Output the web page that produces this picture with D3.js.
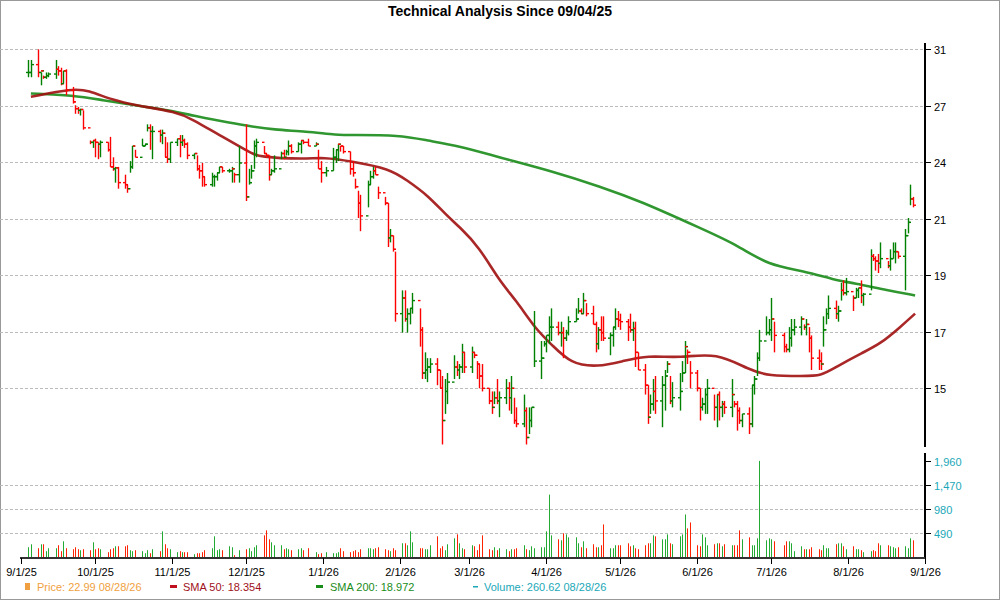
<!DOCTYPE html>
<html><head><meta charset="utf-8">
<script src="https://cdn.jsdelivr.net/npm/d3@7"></script>
<style>body{margin:0;background:#fff}svg{display:block;font-family:"Liberation Sans",Arial,sans-serif}</style>
</head><body><svg id="c" width="1000" height="600"></svg>
<script>
const startDate = "2025-09-04";
const holidays = ["2025-11-27","2025-12-25","2026-01-01","2026-07-03"];
const closes = [29.5,30.0,29.5,29.6,29.2,29.3,29.4,29.7,29.6,28.8,29.6,28.4,27.7,27.3,27.2,27.25,26.2,25.4,25.5,25.4,25.3,25.4,25.0,24.1,24.0,24.05,23.3,23.2,23.0,24.1,25.2,24.6,25.2,25.3,26.2,26.0,26.0,25.8,25.9,24.6,24.5,25.4,25.6,25.4,25.5,25.3,24.7,24.8,24.0,23.9,23.6,23.2,23.6,23.6,23.8,24.1,23.9,23.9,24.0,23.7,
24.3,22.6,23.3,23.9,25.2,25.4,24.8,24.7,23.7,23.9,24.0,24.8,24.6,24.9,25.2,24.9,25.3,25.5,25.4,25.2,25.3,24.0,23.8,23.9,24.6,25.0,25.3,25.2,24.9,24.0,23.8,23.1,22.3,21.7,23.2,23.6,23.9,23.7,22.8,22.3,20.7,20.8,20.2,17.6,18.2,17.4,17.6,17.8,18.1,17.0,15.5,15.6,15.7,15.8,15.6,15.0,14.0,14.9,15.2,
15.7,15.6,15.7,16.2,15.7,16.2,16.1,15.8,15.4,15.0,14.6,14.4,14.7,14.6,14.7,15.0,14.7,15.0,14.0,13.9,14.3,13.5,14.0,14.4,15.9,16.0,16.5,16.8,17.1,17.1,16.9,16.9,16.7,16.9,17.3,17.4,17.7,17.6,18.1,17.6,17.2,16.5,17.0,16.9,16.7,16.8,17.1,17.4,17.35,17.3,17.1,17.0,17.05,16.2,15.6,15.1,14.1,14.5,14.9,14.6,15.1,15.4,15.8,
14.6,14.7,14.9,15.5,16.4,16.2,15.5,15.0,14.4,14.5,14.8,15.0,14.4,14.8,14.4,14.5,14.4,14.8,14.5,14.3,14.0,14.2,13.9,15.1,15.3,16.0,16.6,16.9,17.0,17.4,16.8,16.4,16.3,16.7,17.0,17.1,17.4,17.1,17.2,16.7,16.0,15.9,15.8,17.0,17.6,17.8,17.6,17.7,18.5,18.4,18.45,18.2,18.5,18.6,18.3,18.35,19.9,19.8,19.7,19.6,19.8,19.5,19.8,20.1,20.1,19.9,20.8,21.4,22.5,22.2];
const highs = [30.3,30.3,31.0,29.5,29.3,29.5,29.5,30.3,29.9,29.8,29.6,29.7,28.6,27.5,27.4,27.3,27.2,25.5,25.5,25.6,25.4,25.5,25.4,25.7,24.6,24.1,24.1,23.7,23.2,24.4,25.2,25.0,25.6,25.3,26.4,26.4,26.3,26.1,26.1,25.7,25.4,25.4,25.6,25.8,25.8,25.6,25.4,24.8,24.7,24.2,24.3,23.6,23.8,23.7,23.8,24.1,24.1,24.0,24.1,23.8,
25.2,26.4,24.0,24.2,25.5,25.6,25.2,24.8,24.7,24.0,24.7,24.9,25.0,25.0,25.5,25.3,25.4,25.5,25.5,25.6,25.4,25.0,24.4,24.1,25.1,25.0,25.3,25.2,25.2,24.9,24.4,23.5,22.9,22.7,23.4,23.9,24.1,24.1,23.1,22.6,22.3,21.1,20.8,20.1,18.5,18.5,17.8,17.8,18.4,17.8,17.1,16.2,16.0,16.0,16.0,15.6,15.4,15.3,15.5,
16.1,15.9,15.8,16.5,16.2,16.4,16.2,15.9,15.8,15.8,15.0,14.9,14.9,15.3,14.9,15.3,15.2,15.4,14.7,14.4,14.8,14.4,14.4,14.4,17.7,16.6,16.6,16.8,17.5,17.8,17.3,17.3,17.1,17.0,17.5,17.8,18.2,17.8,18.4,18.0,17.9,17.3,17.1,17.5,17.5,16.9,17.1,17.8,17.7,17.6,17.4,17.6,17.3,17.3,16.2,15.8,15.1,14.8,15.3,15.4,15.4,15.6,15.9,
15.4,15.2,15.5,15.9,16.6,16.3,15.9,15.6,15.0,14.7,15.0,15.3,14.8,14.8,14.9,14.6,14.6,15.3,14.6,14.6,14.4,14.2,14.4,15.1,15.4,16.2,17.0,17.5,17.4,18.2,17.3,16.9,16.5,17.1,17.4,17.4,17.5,17.2,17.4,17.1,16.8,16.3,16.2,17.5,17.8,18.3,18.1,17.9,18.8,18.9,19.0,18.3,18.6,18.6,18.9,18.4,20.2,20.0,19.9,20.0,20.5,19.7,20.2,20.5,20.5,20.1,21.1,21.6,23.2,22.6];
const lows = [29.2,29.2,29.2,28.7,29.1,29.1,29.2,29.1,29.3,28.7,28.8,28.1,27.6,27.0,27.0,26.9,26.1,25.3,25.1,24.6,24.5,24.6,24.9,24.1,23.9,23.3,23.0,23.0,22.8,23.8,24.0,24.6,25.2,25.2,26.0,25.0,24.5,25.4,25.3,24.6,24.3,24.3,25.2,24.6,25.2,25.1,24.5,24.5,23.9,23.5,23.1,23.1,23.1,23.1,23.4,23.8,23.8,23.8,23.3,23.3,
23.3,22.4,23.2,23.5,24.0,24.6,24.8,24.6,23.4,23.7,23.8,24.5,24.5,24.7,24.7,24.8,24.9,24.8,25.3,25.2,25.2,24.0,23.3,23.6,23.9,24.3,24.4,24.9,24.8,23.7,23.6,23.0,21.6,21.0,22.1,23.2,23.5,23.7,22.5,22.2,20.3,20.5,20.1,17.3,16.9,17.3,16.9,17.2,17.6,16.4,15.3,15.3,15.2,15.5,15.1,15.0,13.3,14.2,14.5,
15.3,15.4,15.3,15.5,15.5,15.5,16.0,15.3,15.0,14.9,14.5,14.2,14.5,14.5,14.1,14.5,14.3,14.2,13.9,13.8,13.8,13.3,13.6,13.8,15.7,15.3,16.4,16.2,16.5,16.6,16.8,16.4,16.0,16.6,16.8,17.3,17.6,17.6,17.6,17.5,17.2,16.2,16.3,16.6,16.6,16.1,16.4,17.0,17.1,17.0,16.6,16.9,16.6,15.7,15.6,14.8,13.9,14.2,14.3,14.2,13.8,14.3,15.5,
14.5,14.4,14.3,15.2,15.5,15.8,15.0,14.9,14.0,14.3,14.2,14.2,14.0,13.8,14.0,14.1,14.2,14.1,14.4,13.7,13.9,13.8,13.6,13.8,14.8,15.4,15.9,16.8,16.8,16.6,16.2,16.2,16.2,16.2,16.4,16.8,16.8,17.0,16.8,16.2,15.6,15.6,15.6,16.4,17.2,17.4,17.4,17.3,18.1,18.3,18.3,17.7,18.2,18.2,18.0,17.9,18.5,19.7,19.3,19.2,19.4,19.4,19.3,19.8,19.6,19.8,18.5,20.9,22.2,22.1];
const volumes = [208,269,188,269,269,128,188,188,249,128,329,188,168,208,168,148,168,148,309,168,188,168,108,168,188,228,228,228,249,148,128,148,128,87,148,87,168,128,531,269,188,168,108,128,108,108,108,67,87,87,108,148,188,430,148,168,148,228,208,47,148,168,188,128,208,249,450,551,370,309,249,249,168,188,168,148,168,188,148,188,108,67,87,108,87,87,108,188,128,108,128,148,108,168,188,188,168,188,208,168,148,128,188,148,289,289,249,531,309,188,188,168,168,249,430,188,228,148,269,390,470,289,188,168,249,228,148,269,450,
168,148,208,148,188,168,128,168,168,188,249,168,148,228,188,208,208,531,1277,450,370,349,491,470,410,410,289,208,329,188,269,208,208,249,672,188,188,249,249,249,289,228,249,188,168,249,289,289,450,430,370,370,470,289,269,430,470,874,591,712,249,228,470,410,249,269,289,289,228,269,249,249,249,551,370,410,249,249,390,1962,349,390,370,329,249,329,329,289,128,228,168,168,168,208,168,148,249,188,188,269,289,289,228,168,228,168,168,148,108,128,148,128,289,249,249,228,208,188,208,228,188,390,349,571,531,260];
const sma50Dates = ["2025-09-05","2025-09-22","2025-09-28","2025-10-08","2025-10-17","2025-11-03","2025-11-09","2025-11-20","2025-12-02","2025-12-06","2025-12-25","2026-01-01","2026-01-12","2026-01-28","2026-02-04","2026-02-12","2026-02-20","2026-02-25","2026-03-05","2026-03-13","2026-03-20","2026-03-28","2026-04-03","2026-04-11","2026-04-22","2026-05-02","2026-05-12","2026-05-25","2026-06-09","2026-06-22","2026-06-30","2026-07-14","2026-07-21","2026-07-27","2026-08-07","2026-08-14","2026-08-22","2026-08-28"];
const sma50Values = [28.0,28.5,28.4,27.8,27.5,27.1,26.7,25.8,24.9,24.6,24.5,24.6,24.4,24.0,23.4,22.7,21.7,21.2,20.3,18.9,18.1,17.0,16.5,15.8,15.7,15.9,16.1,16.0,16.2,15.6,15.4,15.4,15.4,15.7,16.2,16.5,17.1,17.6];
const sma200Dates = ["2025-09-05","2025-09-22","2025-10-04","2025-10-17","2025-11-04","2025-11-09","2025-11-20","2025-12-02","2025-12-12","2025-12-25","2026-01-07","2026-01-12","2026-02-01","2026-02-12","2026-02-25","2026-03-13","2026-04-03","2026-04-23","2026-05-09","2026-06-03","2026-06-17","2026-06-30","2026-07-14","2026-07-27","2026-08-03","2026-08-17","2026-08-28"];
const sma200Values = [28.2,28.1,27.8,27.5,27.1,26.9,26.6,26.3,26.1,26.0,25.8,25.8,25.8,25.5,25.2,24.6,23.9,23.1,22.4,21.1,20.4,19.5,19.3,18.9,18.8,18.5,18.3];
const priceTickLabels = ["15","17","19","21","24","27","31"];
const volTickLabels = ["490","980","1,470","1,960"];
const volTickValues = [490,980,1470,1960];
const monthTicks = ["2025-09-01","2025-10-01","2025-11-01","2025-12-01","2026-01-01","2026-02-01","2026-03-01","2026-04-01","2026-05-01","2026-06-01","2026-07-01","2026-08-01","2026-09-01"];

const parse = d3.timeParse("%Y-%m-%d"), fmt = d3.timeFormat("%Y-%m-%d");
const dates = [];
for (let d = parse(startDate); dates.length < closes.length; d = d3.timeDay.offset(d, 1)) {
  const wd = d.getDay();
  if (wd === 0 || wd === 6 || holidays.includes(fmt(d))) continue;
  dates.push(new Date(d));
}
const bars = closes.map((c, i) => ({d: dates[i], c, h: highs[i], l: lows[i], o: i ? closes[i-1] : c, v: volumes[i]}));
bars.forEach(b => b.up = b.c >= b.o);

const svg = d3.select("#c");
const RIGHT = 925;
const x = d3.scaleTime().domain([parse("2025-09-01"), parse("2026-09-01")]).range([21, RIGHT]);
const y = d3.scaleLog().domain([15, 31]).range([388.3, 49.3]);
const yv = d3.scaleLinear().domain([0, 1960]).range([557.5, 461]);
const r = Math.pow(31/15, 1/6);

svg.append("rect").attr("x",0.5).attr("y",0.5).attr("width",999).attr("height",599).attr("fill","none").attr("stroke","#999");
svg.append("text").attr("x",500).attr("y",16).attr("text-anchor","middle").attr("font-size",14).attr("font-weight","bold").text("Technical Analysis Since 09/04/25");

const g = svg.append("g");
priceTickLabels.forEach((lab, k) => {
  const yy = Math.round(y(15*Math.pow(r,k))) + 0.5;
  g.append("line").attr("x1",0).attr("x2",RIGHT).attr("y1",yy).attr("y2",yy).attr("stroke","#bbb").attr("stroke-dasharray","3,2");
  g.append("line").attr("x1",RIGHT).attr("x2",RIGHT+6).attr("y1",yy).attr("y2",yy).attr("stroke","#000");
  g.append("text").attr("x",RIGHT+9).attr("y",yy+4).attr("font-size",11).text(lab);
});
volTickValues.forEach((v, k) => {
  const yy = Math.round(yv(v)) + 0.5;
  if (k < 3) g.append("line").attr("x1",0).attr("x2",RIGHT).attr("y1",yy).attr("y2",yy).attr("stroke","#bbb").attr("stroke-dasharray","3,2");
  g.append("line").attr("x1",RIGHT).attr("x2",RIGHT+6).attr("y1",yy).attr("y2",yy).attr("stroke","#000");
  g.append("text").attr("x",RIGHT+9).attr("y",yy+4).attr("font-size",11).attr("fill","#1aa8b8").text(volTickLabels[k]);
});
svg.append("line").attr("x1",RIGHT).attr("x2",RIGHT).attr("y1",43).attr("y2",447).attr("stroke","#000").attr("stroke-width",2);
svg.append("line").attr("x1",RIGHT).attr("x2",RIGHT).attr("y1",453).attr("y2",559).attr("stroke","#000").attr("stroke-width",2);

svg.append("g").selectAll("line").data(bars.filter(b => b.v != null)).join("line")
  .attr("x1", d => Math.round(x(d.d))+0.5).attr("x2", d => Math.round(x(d.d))+0.5)
  .attr("y1", yv(0)).attr("y2", d => yv(d.v))
  .attr("stroke", d => d.up ? "#22aa33" : "#ff2200").attr("stroke-width",1);

svg.append("line").attr("x1",20).attr("x2",RIGHT).attr("y1",558).attr("y2",558).attr("stroke","#333").attr("stroke-width",2);
monthTicks.forEach(m => {
  const d = parse(m), xx = Math.round(x(d))+0.5;
  svg.append("line").attr("x1",xx).attr("x2",xx).attr("y1",558).attr("y2",564).attr("stroke","#000");
  svg.append("text").attr("x",xx).attr("y",576).attr("text-anchor","middle").attr("font-size",11)
    .text(d3.timeFormat("%-m/%-d/%y")(d));
});

const line = d3.line().x(d => x(d[0])).y(d => y(d[1])).curve(d3.curveBasis);
const s200 = sma200Dates.map((d,i) => [parse(d), sma200Values[i]]);
const s50 = sma50Dates.map((d,i) => [parse(d), sma50Values[i]]);
svg.append("path").attr("d", line(s200)).attr("fill","none").attr("stroke","#1a8c1a").attr("stroke-width",2.6).attr("stroke-opacity",0.9);
svg.append("path").attr("d", line(s50)).attr("fill","none").attr("stroke","#a01010").attr("stroke-width",2.6).attr("stroke-opacity",0.9);

const bg = svg.append("g");
bars.forEach(b => {
  const xx = Math.round(x(b.d)) + 0.5, col = b.up ? "#008000" : "#ff0000";
  bg.append("line").attr("x1",xx).attr("x2",xx).attr("y1",y(b.h)).attr("y2",y(b.l)).attr("stroke",col).attr("stroke-width",1.4);
  bg.append("line").attr("x1",xx-2.5).attr("x2",xx).attr("y1",y(b.o)).attr("y2",y(b.o)).attr("stroke",col).attr("stroke-width",1.4);
  bg.append("line").attr("x1",xx).attr("x2",xx+2.5).attr("y1",y(b.c)).attr("y2",y(b.c)).attr("stroke",col).attr("stroke-width",1.4);
});

const lg = svg.append("g").attr("font-size",11);
lg.append("rect").attr("x",25).attr("y",583).attr("width",5).attr("height",7).attr("fill","#f0a040");
lg.append("text").attr("x",37).attr("y",591).attr("fill","#f0a040").text("Price: 22.99  08/28/26");
lg.append("rect").attr("x",170).attr("y",585).attr("width",7).attr("height",3).attr("fill","#c01020");
lg.append("text").attr("x",183).attr("y",591).attr("fill","#a01020").text("SMA 50: 18.354");
lg.append("rect").attr("x",316).attr("y",585).attr("width",7).attr("height",3).attr("fill","#1a8c1a");
lg.append("text").attr("x",330).attr("y",591).attr("fill","#1a8c1a").text("SMA 200: 18.972");
lg.append("rect").attr("x",473).attr("y",586).attr("width",5).attr("height",1.5).attr("fill","#1aa8b8");
lg.append("text").attr("x",484).attr("y",591).attr("fill","#1aa8b8").text("Volume: 260.62  08/28/26");
</script></body></html>
